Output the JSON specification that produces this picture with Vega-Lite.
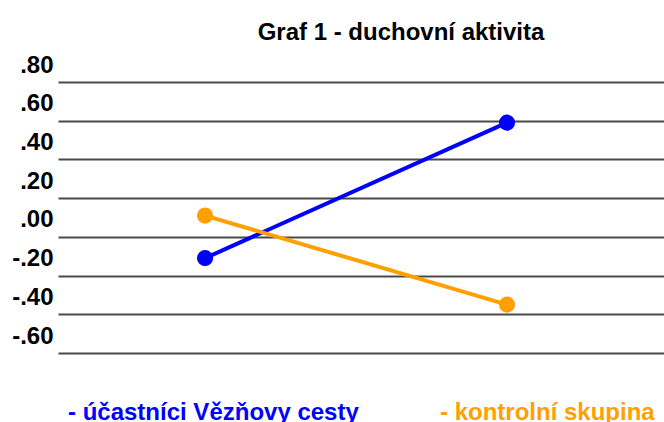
{
  "$schema": "https://vega.github.io/schema/vega-lite/v6.json",
  "width": 606,
  "height": 271,
  "autosize": {"type": "none"},
  "padding": {"left": 58, "top": 82, "right": 0, "bottom": 69},
  "background": "white",
  "config": {"view": {"stroke": null}, "font": "Liberation Sans"},
  "title": {
    "text": "Graf 1 - duchovní aktivita",
    "fontSize": 24,
    "fontWeight": "bold",
    "color": "#000000",
    "font": "Liberation Sans",
    "anchor": "middle",
    "frame": "group",
    "dx": 40,
    "dy": 31,
    "offset": 20,
    "baseline": "alphabetic"
  },
  "data": {
    "values": [
      {"skupina": "účastníci Vězňovy cesty", "mereni": 1, "hodnota": -0.11},
      {"skupina": "účastníci Vězňovy cesty", "mereni": 2, "hodnota": 0.59},
      {"skupina": "kontrolní skupina", "mereni": 1, "hodnota": 0.11},
      {"skupina": "kontrolní skupina", "mereni": 2, "hodnota": -0.35}
    ]
  },
  "mark": {"type": "line", "strokeWidth": 4, "point": {"filled": true, "size": 260, "opacity": 1}},
  "encoding": {
    "x": {
      "field": "mereni",
      "type": "quantitative",
      "scale": {"domain": [0.513, 2.52], "nice": false, "zero": false},
      "axis": null
    },
    "y": {
      "field": "hodnota",
      "type": "quantitative",
      "scale": {"domain": [-0.6, 0.8], "nice": false, "zero": false},
      "axis": {
        "values": [-0.6, -0.4, -0.2, 0, 0.2, 0.4, 0.6, 0.8],
        "labelExpr": "(datum.value < 0 ? '-' : '') + replace(format(abs(datum.value), '.2f'), '0.', '.')",
        "labelFontSize": 24,
        "labelFontWeight": "bold",
        "labelFont": "Liberation Sans",
        "labelColor": "#000000",
        "labelOffset": -17,
        "labelPadding": 5,
        "labelBaseline": "middle",
        "labelFlush": false,
        "labelOverlap": false,
        "ticks": false,
        "domain": false,
        "gridColor": "#4a4a4a",
        "gridWidth": 2,
        "gridOpacity": 1,
        "title": null
      }
    },
    "color": {
      "field": "skupina",
      "type": "nominal",
      "scale": {
        "domain": ["účastníci Vězňovy cesty", "kontrolní skupina"],
        "range": ["#0000ff", "#ffa000"]
      },
      "legend": {
        "orient": "none",
        "legendX": -14,
        "legendY": 319,
        "direction": "horizontal",
        "title": null,
        "symbolSize": 0,
        "symbolOpacity": 0,
        "symbolStrokeWidth": 0,
        "labelOffset": 0,
        "labelFontSize": 24,
        "labelFontWeight": "bold",
        "labelFont": "Liberation Sans",
        "labelLimit": 500,
        "labelBaseline": "middle",
        "labelExpr": "'- ' + datum.label",
        "columnPadding": 57,
        "encode": {"labels": {"update": {"fill": {"scale": "color", "field": "value"}}}}
      }
    }
  }
}
